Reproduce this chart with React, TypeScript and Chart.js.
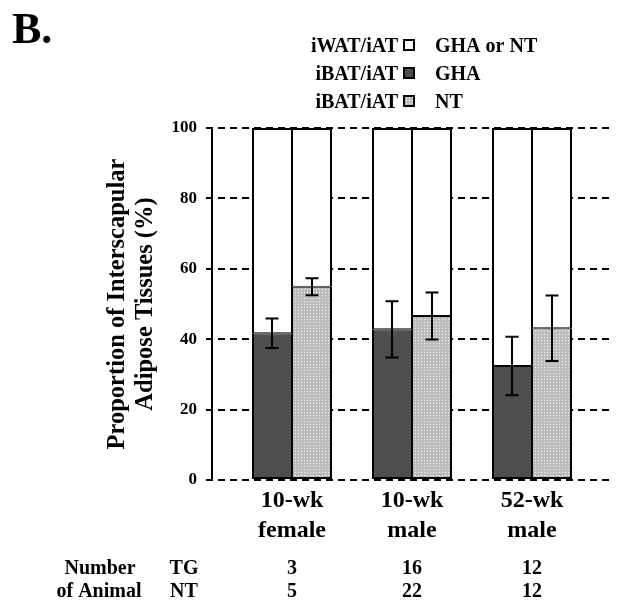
import React, { useEffect, useRef } from 'react';
import { Chart, registerables } from 'chart.js';

Chart.register(...registerables);

// ---- data ----
const groupLines: string[][] = [
  ['10-wk', 'female'],
  ['10-wk', 'male'],
  ['52-wk', 'male'],
];
const ghaBat = [41.7, 42.8, 32.4];
const ghaErr = [4.2, 8.0, 8.3];
const ntBat = [54.9, 46.6, 43.1];
const ntErr = [2.4, 6.7, 9.3];
const yTicks = [0, 20, 40, 60, 80, 100];
const tgCounts = [3, 16, 12];
const ntCounts = [5, 22, 12];
const legendLeft = ['iWAT/iAT', 'iBAT/iAT', 'iBAT/iAT'];
const legendRight = ['GHA or NT', 'GHA', 'NT'];
const yTitle = ['Proportion of Interscapular', 'Adipose Tissues (%)'];

const FONT = '"Liberation Serif", "Times New Roman", serif';
const DARK = '#4e4e4e';

function makeStipple(): CanvasPattern | string {
  const c = document.createElement('canvas');
  c.width = 3;
  c.height = 3;
  const g = c.getContext('2d');
  if (!g) return '#c6c6c6';
  g.fillStyle = '#bcbcbc';
  g.fillRect(0, 0, 3, 3);
  g.fillStyle = '#f2f2f2';
  g.fillRect(1, 1, 1, 1);
  const p = g.createPattern(c, 'repeat');
  return p || '#c6c6c6';
}

export default function App() {
  const ref = useRef<HTMLCanvasElement>(null);

  useEffect(() => {
    const canvas = ref.current;
    if (!canvas) return;
    const stipple = makeStipple();
    const legendFills: any[] = ['#ffffff', DARK, stipple];

    const errorBars = {
      id: 'errorBars',
      afterDatasetsDraw(chart: any) {
        const ys = chart.scales.y;
        const ctx = chart.ctx;
        const sets: [number, number[], number[]][] = [
          [0, ghaBat, ghaErr],
          [2, ntBat, ntErr],
        ];
        ctx.save();
        ctx.strokeStyle = '#000';
        ctx.lineWidth = 2;
        sets.forEach(([di, m, e]) => {
          const meta = chart.getDatasetMeta(di);
          meta.data.forEach((bar: any, i: number) => {
            const x = bar.x;
            const top = ys.getPixelForValue(m[i] + e[i]);
            const bot = ys.getPixelForValue(m[i] - e[i]);
            ctx.beginPath();
            ctx.moveTo(x, top);
            ctx.lineTo(x, bot);
            ctx.moveTo(x - 6.5, top);
            ctx.lineTo(x + 6.5, top);
            ctx.moveTo(x - 6.5, bot);
            ctx.lineTo(x + 6.5, bot);
            ctx.stroke();
          });
        });
        ctx.restore();
      },
    };

    const annotations = {
      id: 'annotations',
      afterDraw(chart: any) {
        const ctx = chart.ctx;
        const xs = chart.scales.x;
        ctx.save();
        ctx.fillStyle = '#000';
        ctx.textBaseline = 'alphabetic';
        ctx.textAlign = 'left';
        ctx.font = `bold 44px ${FONT}`;
        ctx.fillText('B.', 12, 43);

        ctx.font = `bold 20px ${FONT}`;
        legendLeft.forEach((l, i) => {
          const base = 52 + i * 28;
          ctx.fillStyle = '#000';
          ctx.textAlign = 'right';
          ctx.fillText(l, 398, base);
          ctx.textAlign = 'left';
          ctx.fillText(legendRight[i], 435, base);
          ctx.fillStyle = legendFills[i];
          ctx.fillRect(404, base - 12, 10, 10);
          ctx.lineWidth = 2;
          ctx.strokeStyle = '#000';
          ctx.strokeRect(404, base - 12, 10, 10);
        });

        ctx.fillStyle = '#000';
        ctx.textAlign = 'center';
        ctx.fillText('Number', 100, 574);
        ctx.fillText('TG', 184, 574);
        ctx.fillText('of Animal', 99, 597);
        ctx.fillText('NT', 184, 597);
        tgCounts.forEach((n, i) => ctx.fillText(String(n), xs.getPixelForValue(i), 574));
        ntCounts.forEach((n, i) => ctx.fillText(String(n), xs.getPixelForValue(i), 597));
        ctx.restore();
      },
    };

    const chart = new Chart(canvas, {
      type: 'bar',
      data: {
        datasets: [
          {
            label: 'iBAT/iAT GHA',
            stack: 'GHA',
            data: ghaBat.map((v, i) => ({ x: i, y: v })),
            backgroundColor: DARK,
            borderColor: '#000',
            borderWidth: { top: 1, right: 1, bottom: 2, left: 2 },
            borderSkipped: false,
          },
          {
            label: 'iWAT/iAT GHA',
            stack: 'GHA',
            data: ghaBat.map((v, i) => ({ x: i, y: 100 - v })),
            backgroundColor: '#ffffff',
            borderColor: '#000',
            borderWidth: { top: 2, right: 1, bottom: 1, left: 2 },
            borderSkipped: false,
          },
          {
            label: 'iBAT/iAT NT',
            stack: 'NT',
            data: ntBat.map((v, i) => ({ x: i, y: v })),
            backgroundColor: stipple as any,
            borderColor: '#000',
            borderWidth: { top: 1, right: 2, bottom: 2, left: 1 },
            borderSkipped: false,
          },
          {
            label: 'iWAT/iAT NT',
            stack: 'NT',
            data: ntBat.map((v, i) => ({ x: i, y: 100 - v })),
            backgroundColor: '#ffffff',
            borderColor: '#000',
            borderWidth: { top: 2, right: 2, bottom: 1, left: 1 },
            borderSkipped: false,
          },
        ] as any,
      },
      options: {
        responsive: false,
        animation: false,
        layout: { padding: { top: 128, right: 4, bottom: 0, left: 90 } },
        plugins: {
          legend: { display: false },
          tooltip: { enabled: false },
        },
        datasets: {
          bar: { categoryPercentage: 2 / 3, barPercentage: 1 },
        },
        scales: {
          x: {
            type: 'linear',
            min: -2 / 3,
            max: -2 / 3 + 401 / 120,
            offset: false,
            grid: { display: false, drawTicks: false },
            border: { display: false },
            afterBuildTicks: (s: any) => {
              s.ticks = groupLines.map((_, i) => ({ value: i }));
            },
            afterFit: (s: any) => {
              s.height = 121;
            },
            ticks: {
              autoSkip: false,
              maxRotation: 0,
              minRotation: 0,
              padding: 6,
              color: '#000',
              font: { family: FONT, weight: 'bold', size: 24, lineHeight: 1.25 },
              callback: (v: any) => groupLines[v] ?? '',
            },
          },
          y: {
            type: 'linear',
            min: 0,
            max: 100,
            stacked: true,
            afterBuildTicks: (s: any) => {
              s.ticks = yTicks.map((v) => ({ value: v }));
            },
            afterFit: (s: any) => {
              s.width = 122;
            },
            ticks: {
              padding: 9,
              color: '#000',
              font: { family: FONT, weight: 'bold', size: 17 },
            },
            grid: {
              color: '#000',
              lineWidth: 2,
              drawTicks: true,
              tickLength: 6,
              tickWidth: 2,
              tickColor: '#000',
              tickBorderDash: [],
            },
            border: { display: true, color: '#000', width: 2, dash: [7, 5], dashOffset: 7 },
            title: {
              display: true,
              text: yTitle,
              color: '#000',
              font: { family: FONT, weight: 'bold', size: 24.5, lineHeight: 28 / 24.5 },
              padding: { top: 14, bottom: 0 },
            },
          },
        },
      } as any,
      plugins: [errorBars, annotations],
    });

    return () => chart.destroy();
  }, []);

  return (
    <div style={{ position: 'absolute', left: 0, top: 0, width: 617, height: 601, background: '#fff' }}>
      <canvas ref={ref} width={617} height={601} style={{ display: 'block', width: 617, height: 601 }} />
    </div>
  );
}
